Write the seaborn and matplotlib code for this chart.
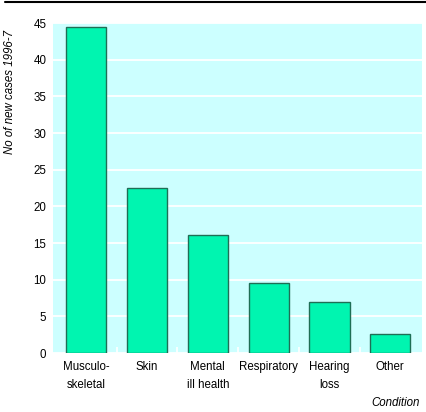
import matplotlib
matplotlib.use('Agg')
import matplotlib.pyplot as plt
from matplotlib.lines import Line2D
import seaborn as sns
import pandas as pd

categorias = ['Musculo-\nskeletal', 'Skin', 'Mental\nill health', 'Respiratory', 'Hearing\nloss', 'Other']
casos = [44.5, 22.5, 16.1, 9.5, 7.0, 2.6]
ticks_y = [0, 5, 10, 15, 20, 25, 30, 35, 40, 45]

dados = pd.DataFrame({'condicao': categorias, 'casos': casos})

sns.set_style('white')
plt.rcParams['font.family'] = ['Liberation Sans', 'DejaVu Sans']
plt.rcParams['text.color'] = 'black'
plt.rcParams['xtick.color'] = 'black'
plt.rcParams['ytick.color'] = 'black'

figura = plt.figure(figsize=(4.26, 4.12), dpi=100)
eixo = figura.add_axes([0.125, 0.1432, 0.8656, 0.8008])
eixo.set_facecolor('#ccffff')

sns.barplot(data=dados, x='condicao', y='casos', ax=eixo, color='#00f5b0',
            saturation=1, width=0.66, edgecolor='#1f6e55', linewidth=1)

eixo.set_ylim(0, 45)
eixo.set_xlim(-0.54, 5.52)
eixo.set_yticks(ticks_y)
eixo.set_yticklabels([str(t) for t in ticks_y], fontsize=8.3)
eixo.yaxis.grid(True, color='white', linewidth=1.3)
eixo.set_axisbelow(True)
for lado in eixo.spines.values():
    lado.set_visible(False)

eixo.set_xticks(range(len(categorias)))
eixo.set_xticklabels(categorias, fontsize=8.3, linespacing=1.6, va='top')
eixo.set_xticks([i + 0.5 for i in range(len(categorias) - 1)], minor=True)
eixo.tick_params(axis='x', which='major', length=0, pad=6, labelcolor='black')
eixo.tick_params(axis='x', which='minor', length=4, direction='in', color='white', width=1.2, bottom=True)
eixo.tick_params(axis='y', length=0, pad=5, labelcolor='black')
eixo.set_xlabel('')
eixo.set_ylabel('')

figura.text(10 / 426, 1 - 30 / 412, 'No of new cases 1996-7', rotation=90, style='italic',
            fontsize=8.3, ha='center', va='top', color='black')
figura.text(420 / 426, 1 - 403 / 412, 'Condition', style='italic', fontsize=8.3,
            ha='right', va='center', color='black')
figura.add_artist(Line2D([5 / 426, 1], [1 - 2 / 412, 1 - 2 / 412], color='black', linewidth=1.5))

figura.savefig('out.png', dpi=100)
